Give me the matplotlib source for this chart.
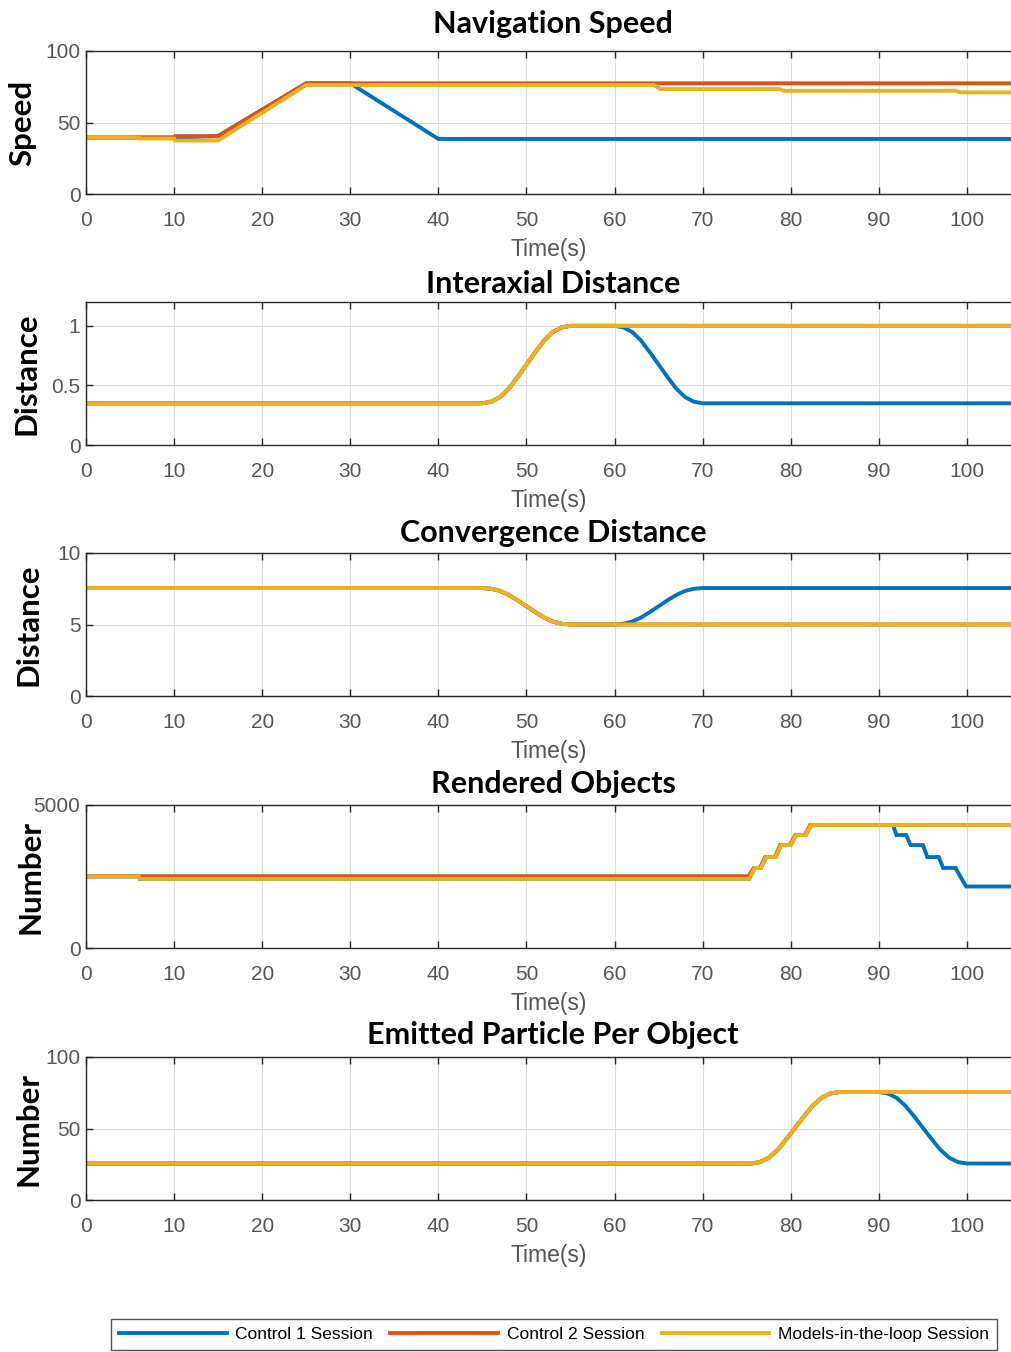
import numpy as np
import matplotlib
matplotlib.use("Agg")
import matplotlib.pyplot as plt
from matplotlib.lines import Line2D

# MATLAB default line colours
c_blue = '#0072BD'
c_red = '#D95319'
c_yel = '#EDB120'

#%% data
# smooth transition shape over 10 s (0 -> 1)
s_t = [0, 1, 2, 3, 4, 5, 6, 7, 8, 9, 10]
s_frac = [0.0, 0.02, 0.08, 0.19, 0.34, 0.5, 0.66, 0.81, 0.92, 0.98, 1.0]

# Navigation Speed
speed_t_c1 = [0, 10, 15, 25, 30, 40, 105]
speed_v_c1 = [39.5, 39.5, 40.5, 77.4, 77.4, 38.5, 38.5]
speed_t_c2 = [0, 10, 10.1, 15, 25, 105]
speed_v_c2 = [39.5, 39.5, 40.5, 40.5, 77.4, 77.4]
speed_t_mil = [0, 6, 6.1, 10, 10.1, 15, 25, 64.5, 65.2, 78.7, 79.2, 98.7, 99.2, 105]
speed_v_mil = [39.5, 39.5, 38.8, 38.8, 37.4, 37.4, 76.2, 76.2, 73.4, 73.4, 72.2, 72.2, 71.1, 71.1]

# Interaxial Distance
iad_low, iad_high = 0.35, 1.0
iad_up_start = 45      # MIL + control 2 go up
iad_down_start = 60    # control 1 comes back down

# Convergence Distance
conv_high, conv_low = 7.55, 5.0
conv_down_start = 45
conv_up_start = 60

# Rendered Objects (stepwise)
obj_t_mil = [0, 6, 6.1, 75.3, 75.9, 76.6, 77.2, 78.3, 78.9, 80.0, 80.6, 81.7, 82.3, 83.4, 83.9, 105]
obj_v_mil = [2500, 2500, 2420, 2420, 2800, 2800, 3180, 3180, 3600, 3600, 3950, 3950, 4300, 4300, 4300, 4300]
obj_t_c2 = [0, 75.2, 75.8, 76.5, 77.1, 78.2, 78.8, 79.9, 80.5, 81.6, 82.2, 83.3, 83.8, 105]
obj_v_c2 = [2510, 2510, 2800, 2800, 3180, 3180, 3600, 3600, 3950, 3950, 4300, 4300, 4300, 4300]
obj_t_c1 = [0, 6, 6.1, 75.3, 75.9, 76.6, 77.2, 78.3, 78.9, 80.0, 80.6, 81.7, 82.3, 83.4, 91.6,
            92.0, 93.1, 93.6, 95.0, 95.5, 96.8, 97.3, 98.7, 99.9, 105]
obj_v_c1 = [2500, 2500, 2420, 2420, 2800, 2800, 3180, 3180, 3600, 3600, 3950, 3950, 4300, 4300, 4300,
            3950, 3950, 3600, 3600, 3180, 3180, 2800, 2800, 2150, 2150]

# Emitted Particle Per Object
emit_low, emit_high = 25.5, 75.5
emit_up_start = 75.5
emit_down_start = 90

titles = ['Navigation Speed', 'Interaxial Distance', 'Convergence Distance',
          'Rendered Objects', 'Emitted Particle Per Object']
ylabels = ['Speed', 'Distance', 'Distance', 'Number', 'Number']
ylims = [(0, 100), (0, 1.2), (0, 10), (0, 5000), (0, 100)]
yticks = [[0, 50, 100], [0, 0.5, 1], [0, 5, 10], [0, 5000], [0, 50, 100]]
xticks = list(range(0, 101, 10))
legend_labels = ['Control 1 Session', 'Control 2 Session', 'Models-in-the-loop Session']


#%% helpers
def transition(t0, v_from, v_to, *more):
    # piecewise: flat, S-curve at t0, then optional second S-curve
    tt = [0]
    vv = [v_from]
    tt += [t0 + s for s in s_t]
    vv += [v_from + (v_to - v_from) * f for f in s_frac]
    if more:
        t1, v_end = more
        tt += [t1 + s for s in s_t]
        vv += [v_to + (v_end - v_to) * f for f in s_frac]
    tt.append(105)
    vv.append(vv[-1])
    return tt, vv


#%% figure
W, H = 1011, 1352
fig = plt.figure(figsize=(W / 100, H / 100), dpi=100)

ax_tops = [51, 302, 553, 805, 1057]
ax_h = 143
left = 86
ylabel_x = [22, 27, 29, 31, 29]      # pixel centre of the y labels
title_pad = [13.2, 6.7, 8.1, 8.9, 9.6]
tick_col = '#555555'
lw = 2.8

series = []
series.append([(speed_t_c1, speed_v_c1), (speed_t_c2, speed_v_c2), (speed_t_mil, speed_v_mil)])
series.append([transition(iad_up_start, iad_low, iad_high, iad_down_start, iad_low),
               transition(iad_up_start, iad_low, iad_high),
               transition(iad_up_start, iad_low, iad_high)])
series.append([transition(conv_down_start, conv_high, conv_low, conv_up_start, conv_high),
               transition(conv_down_start, conv_high, conv_low),
               transition(conv_down_start, conv_high, conv_low)])
series.append([(obj_t_c1, obj_v_c1), (obj_t_c2, obj_v_c2), (obj_t_mil, obj_v_mil)])
series.append([transition(emit_up_start, emit_low, emit_high, emit_down_start, emit_low),
               transition(emit_up_start, emit_low, emit_high),
               transition(emit_up_start, emit_low, emit_high)])

for i in range(5):
    ax = fig.add_axes([left / W, 1 - (ax_tops[i] + ax_h) / H, (W - left) / W, ax_h / H])
    for (tt, vv), col in zip(series[i], [c_blue, c_red, c_yel]):
        ax.plot(tt, vv, color=col, linewidth=lw, solid_joinstyle='miter')
    ax.set_xlim(0, 105)
    ax.set_ylim(*ylims[i])
    ax.set_xticks(xticks)
    ax.set_yticks(yticks[i])
    ax.set_yticklabels([('%g' % v) for v in yticks[i]])
    ax.grid(True, color='#dcdcdc', linewidth=0.8)
    ax.set_axisbelow(True)
    ax.tick_params(direction='in', top=True, right=False, length=5, width=1.0,
                   colors='#262626', labelcolor=tick_col, labelsize=15)
    ax.tick_params(axis='x', pad=12)
    ax.tick_params(axis='y', pad=4)
    for tl in ax.get_xticklabels() + ax.get_yticklabels():
        tl.set_family('Liberation Sans')
    ax.spines['right'].set_visible(False)
    for sp in ['left', 'top', 'bottom']:
        ax.spines[sp].set_color('#262626')
        ax.spines[sp].set_linewidth(1.0)
    ax.set_xlabel('Time(s)', fontsize=16.5, family='Liberation Sans', color=tick_col, labelpad=6)
    ax.set_ylabel(ylabels[i], fontsize=22.5, family='Lato', fontweight='bold', color='black',
                  va='center')
    ax.yaxis.set_label_coords((ylabel_x[i] - left) / (W - left), 0.5)
    ax.set_title(titles[i], fontsize=22, family='Lato', fontweight='bold', pad=title_pad[i], x=0.505)

handles = [Line2D([], [], color=c, linewidth=lw) for c in [c_blue, c_red, c_yel]]
leg = fig.legend(handles, legend_labels, loc='upper center', ncol=3,
                 bbox_to_anchor=(554 / W, 1 - 1319 / H), frameon=True, fancybox=False,
                 handlelength=6.2, columnspacing=1.0, handletextpad=0.5,
                 prop={'family': ['Liberation Sans Narrow', 'Liberation Sans'], 'size': 12.5},
                 borderpad=0.45, borderaxespad=0)
leg.get_frame().set_edgecolor('#262626')
leg.get_frame().set_linewidth(1.0)

fig.savefig('out.png', dpi=100)
